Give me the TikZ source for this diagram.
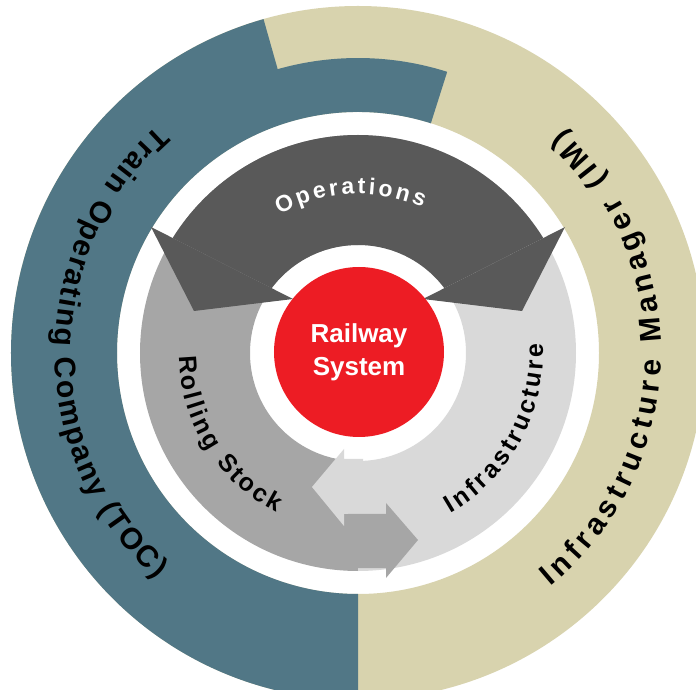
\documentclass[tikz,border=0pt]{standalone}
\usepackage{fontspec}
\setmainfont{Liberation Sans}
\usepackage{xcolor}
\usetikzlibrary{decorations.text}
\definecolor{tocblue}{RGB}{81,119,134}
\definecolor{imsand}{RGB}{216,211,174}
\definecolor{opsgray}{RGB}{89,89,89}
\definecolor{rollgray}{RGB}{166,166,166}
\definecolor{infragray}{RGB}{217,217,217}
\definecolor{railred}{RGB}{237,28,36}

\begin{document}
\begin{tikzpicture}[x=1pt,y=1pt,
    ringtext/.style={decorate,decoration={text along path,text align={fit to path},text={#1}}}]
	\clip (-358,-337) rectangle (338,353);
	% outer ring: TOC and IM
	\fill[imsand,even odd rule] (0,0) circle[radius=347] (0,0) circle[radius=241];
	\fill[tocblue] (270:347) arc[start angle=270,end angle=105.8,radius=347] -- (105.8:295)
		arc[start angle=105.8,end angle=72.4,radius=295] -- (72.4:241)
		arc[start angle=72.4,end angle=270,radius=241] -- cycle;
	% inner ring: rolling stock and infrastructure
	\fill[rollgray] (90:218) arc[start angle=90,end angle=270,radius=218] -- (270:108)
		arc[start angle=270,end angle=90,radius=108] -- cycle;
	\fill[infragray] (90:218) arc[start angle=90,end angle=-90,radius=218] -- (-90:108)
		arc[start angle=-90,end angle=90,radius=108] -- cycle;
	% operations arrow
	\coordinate (opsLout) at (-207,126);
	\coordinate (opsLin) at (-65,54);
	\coordinate (opsLtip) at (-164,42);
	\coordinate (opsRout) at (207,126);
	\coordinate (opsRin) at (65,54);
	\coordinate (opsRtip) at (164,42);
	\begin{scope}
		\clip (-260,152.9) -- (0,21.04) -- (260,152.9) -- (260,260) -- (-260,260) -- cycle;
		\fill[opsgray,even odd rule] (0,0) circle[radius=218] (0,0) circle[radius=108];
	\end{scope}
	\fill[opsgray] (opsLout) -- (opsLtip) -- (opsLin) -- cycle;
	\fill[opsgray] (opsRout) -- (opsRtip) -- (opsRin) -- cycle;
	% exchange arrows
	\fill[infragray] (5,-106) -- (-14,-106) -- (-14,-96) -- (-46,-134) -- (-14,-173) -- (-14,-161) -- (5,-161) -- cycle;
	\fill[rollgray] (-10,-161) -- (28,-161) -- (28,-150) -- (60,-187) -- (28,-225) -- (28,-215) -- (-10,-215) -- cycle;
	% core
	\node[circle,fill=railred,minimum size=170,inner sep=0,text=white,align=center,
		font=\bfseries\fontsize{26}{33}\selectfont] (core) at (1,1) {Railway\\System};
	% labels
	\path[ringtext={|\color{white}\bfseries\fontsize{23}{23}\selectfont|Operations}]
		(119.5:159) arc[start angle=119.5,end angle=66,radius=159];
	\path[ringtext={|\bfseries\fontsize{25}{25}\selectfont|Rolling Stock}]
		(181:179) arc[start angle=181,end angle=243,radius=179];
	\path[ringtext={|\bfseries\fontsize{25}{25}\selectfont|Infrastructure}]
		(-60:185) arc[start angle=-60,end angle=3,radius=185];
	\path[ringtext={|\bfseries\fontsize{30}{30}\selectfont|Train Operating Company (TOC)}]
		(131.5:303) arc[start angle=131.5,end angle=228.3,radius=303];
	\path[ringtext={|\bfseries\fontsize{30}{30}\selectfont|Infrastructure Manager (IM)}]
		(-50.5:303) arc[start angle=-50.5,end angle=47.5,radius=303];
\end{tikzpicture}
\end{document}
